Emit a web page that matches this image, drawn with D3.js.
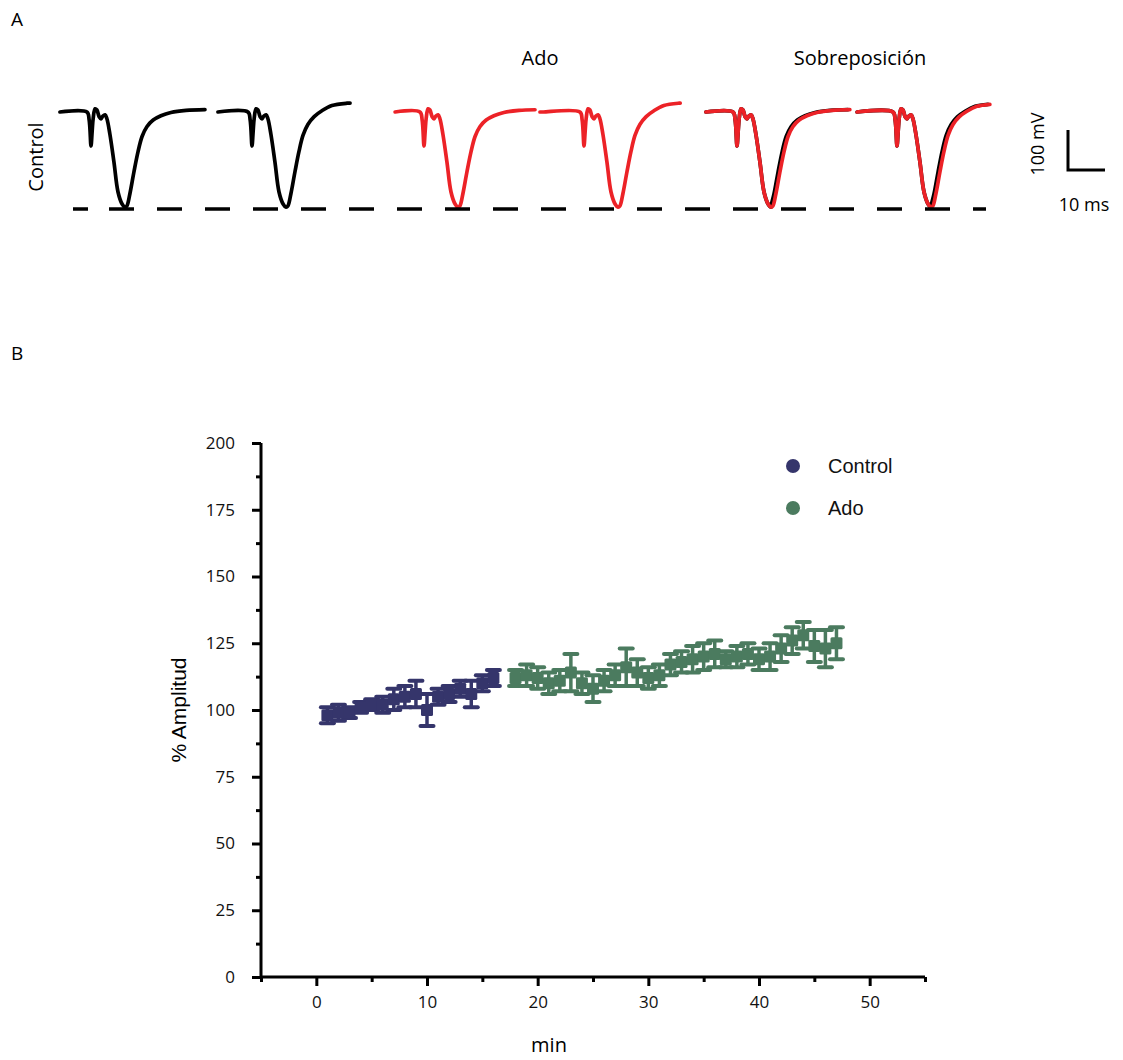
<!DOCTYPE html>
<html><head><meta charset="utf-8">
<script src="https://cdn.jsdelivr.net/npm/d3@7"></script>
<style>body{margin:0;background:#fff}svg{display:block}</style>
</head><body>
<script>
// ---------- DATA ----------
// Panel B
const controlMin = [1,2,3,4,5,6,7,8,9,10,11,12,13,14,15,16];
const controlAmp = [98,99,99,101,102,102,104,105,106,100,105,106,108,106,110,112];
const controlErr = [3,3,2,2,2,3,4,4,5,6,3,3,3,5,3,3];
const adoMin = [18,19,20,21,22,23,24,25,26,27,28,29,30,31,32,33,34,35,36,37,38,39,40,41,42,43,44,45,46,47];
const adoAmp = [112,113,112,110,111,114,110,108,111,113,116,114,112,113,117,118,119,120,121,119,120,121,119,120,123,126,128,124,123,125];
const adoErr = [3,4,4,4,4,7,4,5,4,4,7,5,4,4,4,4,5,5,5,3,4,4,4,5,5,5,5,6,7,6];
const yTicks = [0,25,50,75,100,125,150,175,200];
const xTicks = [0,10,20,30,40,50];
const seriesNames = ["Control","Ado"];

// Panel A : waveform template (ms relative to first deflection, mV relative to baseline)
const tmplT = [-11,-1.1,-0.5,0,0.3,0.6,1.1,1.6,2.2,2.7,3.2,3.8,4.3,5.1,6.2,7.3,8.4,9.2,9.7,10.5,11.6,12.7,13.8,15.1,16.8,18.9,21.6,25.7,31.1];
const tmplV = [0,0,-20,-85,-50,-15,8,5,-12,-17,-10,-7,-17,-55,-125,-200,-230,-238,-235,-205,-150,-100,-62,-38,-22,-12,-5,0,2];
// per-trace: start ms, end ms, late baseline drift (mV)
const traceStart = [-8.4,-9.2,-7.8,-11.9,-8.4,-10.8];
const traceEnd = [30.8,26.5,30,26,30.5,25.1];
const traceDrift = [4,22,4,22,4,20];
const groupLabels = ["Control","Ado","Sobreposición"];

// ---------- LAYOUT ----------
const W = 1123, H = 1060;
const svg = d3.select("body").append("svg").attr("width",W).attr("height",H);
const font = "'Open Sans', sans-serif";
const colControl = "#35356b", colAdo = "#4b7b5f", colRed = "#ec2227";

svg.append("text").attr("x",11).attr("y",26).text("A").attr("font-family",font).attr("font-size",19);
svg.append("text").attr("x",11).attr("y",360).text("B").attr("font-family",font).attr("font-size",19);

// ---- Panel A ----
const pxPerMs = 3.7, pxPerMv = 0.4, baseY = 112;
const traceX0 = [91,252,424,584,737,897]; // pixel of t=0
const traceColors = [["#000"],["#000"],[colRed],[colRed],["#000",colRed],["#000",colRed]];
function tracePoints(i){
  const pts = [];
  const s = traceStart[i], e = traceEnd[i];
  const T = [s].concat(tmplT.filter(t=>t>s && t<e)).concat([e]);
  T.forEach(t=>{
    let v;
    if(t<=tmplT[0]) v=tmplV[0];
    else if(t>=tmplT[tmplT.length-1]) v=tmplV[tmplV.length-1];
    else { const j = d3.bisectRight(tmplT,t)-1; const f=(t-tmplT[j])/(tmplT[j+1]-tmplT[j]); v=tmplV[j]+f*(tmplV[j+1]-tmplV[j]); }
    if(t>12) v += traceDrift[i]*Math.min(1,(t-12)/10);
    pts.push([t,v]);
  });
  return pts;
}
traceX0.forEach((x0,i)=>{
  const xs = d3.scaleLinear().domain([0,1]).range([x0,x0+pxPerMs]);
  const ys = d3.scaleLinear().domain([0,-1]).range([baseY,baseY+pxPerMv]);
  const pts = tracePoints(i);
  traceColors[i].forEach((c,k)=>{
    const shift = (traceColors[i].length===2 && k===0) ? -0.5 : 0;
    const line = d3.line().x(d=>xs(d[0]+ (d[0]>9.5?shift:0))).y(d=>ys(d[1])).curve(d3.curveCatmullRom.alpha(0.5));
    svg.append("path").attr("d",line(pts)).attr("fill","none").attr("stroke",c)
      .attr("stroke-width",3.7).attr("stroke-linejoin","round").attr("stroke-linecap","round");
  });
});
// dashed reference line at peak
svg.append("line").attr("x1",73).attr("x2",986).attr("y1",209).attr("y2",209)
  .attr("stroke","#000").attr("stroke-width",3.5).attr("stroke-dasharray","15 21 25 23 25 23 25 23 25 23 25 23 25 23 25 23 25 23 25 23 25 23 25 23 25 23 25 23 25 23 25 23 25 23 25 23 25 23 25 23");
svg.append("text").attr("transform","translate(43,157) rotate(-90)").attr("text-anchor","middle")
  .text(groupLabels[0]).attr("font-family",font).attr("font-size",20);
svg.append("text").attr("x",540).attr("y",65).attr("text-anchor","middle")
  .text(groupLabels[1]).attr("font-family",font).attr("font-size",20);
svg.append("text").attr("x",860).attr("y",65).attr("text-anchor","middle")
  .text(groupLabels[2]).attr("font-family",font).attr("font-size",20);
// scale bar
svg.append("path").attr("d","M1068,130 L1068,170 L1105,170").attr("fill","none").attr("stroke","#000").attr("stroke-width",3);
svg.append("text").attr("transform","translate(1044,144) rotate(-90)").attr("text-anchor","middle")
  .text("100 mV").attr("font-family",font).attr("font-size",18);
svg.append("text").attr("x",1084).attr("y",211).attr("text-anchor","middle")
  .text("10 ms").attr("font-family",font).attr("font-size",18);

// ---- Panel B ----
const x = d3.scaleLinear().domain([-5,55]).range([261,925]);
const y = d3.scaleLinear().domain([0,200]).range([977,443]);
const yAxis = d3.axisLeft(y).tickValues(yTicks).tickSize(9).tickPadding(17);
const yMinor = d3.axisLeft(y).tickValues(d3.range(12.5,200,25)).tickSize(5).tickFormat("");
const xAxis = d3.axisBottom(x).tickValues(xTicks).tickSize(9).tickPadding(10);
const xMinor = d3.axisBottom(x).tickValues([-5,5,15,25,35,45,55]).tickSize(5).tickFormat("");
function styleAxis(g){
  g.select(".domain").remove();
  g.selectAll(".tick line").attr("stroke-width",3).attr("stroke","#000");
  g.selectAll(".tick text").attr("font-family",font).attr("font-size",17).attr("fill","#111");
}
svg.append("g").attr("transform","translate(261,0)").call(yMinor).call(styleAxis);
svg.append("g").attr("transform","translate(261,0)").call(yAxis).call(styleAxis);
svg.append("g").attr("transform","translate(0,977)").call(xMinor).call(styleAxis);
svg.append("g").attr("transform","translate(0,977)").call(xAxis).call(styleAxis);
svg.append("line").attr("x1",x(-5)).attr("x2",x(-5)).attr("y1",y(0)+1.5).attr("y2",y(200)).attr("stroke","#000").attr("stroke-width",3);
svg.append("line").attr("x1",x(-5)).attr("x2",x(55)).attr("y1",y(0)).attr("y2",y(0)).attr("stroke","#000").attr("stroke-width",3);

svg.append("text").attr("transform","translate(186,710) rotate(-90)").attr("text-anchor","middle")
  .text("% Amplitud").attr("font-family","'Liberation Sans', Arial, sans-serif").attr("font-size",21);
svg.append("text").attr("x",549).attr("y",1052).attr("text-anchor","middle")
  .text("min").attr("font-family",font).attr("font-size",20);

function drawSeries(xs, ys, es, col){
  const g = svg.append("g");
  const d = xs.map((v,i)=>({x:v,y:ys[i],e:es[i]}));
  g.selectAll(".eb").data(d).enter().append("line")
    .attr("x1",d=>x(d.x)).attr("x2",d=>x(d.x)).attr("y1",d=>y(d.y-d.e)).attr("y2",d=>y(d.y+d.e))
    .attr("stroke",col).attr("stroke-width",3.5);
  ["lo","hi"].forEach(k=>{
    g.selectAll(".cap"+k).data(d).enter().append("line")
      .attr("x1",d=>x(d.x)-6.5).attr("x2",d=>x(d.x)+6.5)
      .attr("y1",d=>y(k==="lo"?d.y-d.e:d.y+d.e)).attr("y2",d=>y(k==="lo"?d.y-d.e:d.y+d.e))
      .attr("stroke",col).attr("stroke-width",4).attr("stroke-linecap","round");
  });
  g.selectAll(".pt").data(d).enter().append("rect")
    .attr("x",d=>x(d.x)-6).attr("y",d=>y(d.y)-6).attr("width",12).attr("height",12).attr("rx",1.5)
    .attr("fill",col);
}
drawSeries(controlMin, controlAmp, controlErr, colControl);
drawSeries(adoMin, adoAmp, adoErr, colAdo);

// legend
const leg = [[seriesNames[0],colControl,466],[seriesNames[1],colAdo,508]];
leg.forEach(l=>{
  svg.append("circle").attr("cx",793).attr("cy",l[2]).attr("r",7).attr("fill",l[1]);
  svg.append("text").attr("x",828).attr("y",l[2]+7).text(l[0])
    .attr("font-family","'Liberation Sans', Arial, sans-serif").attr("font-size",20).attr("fill","#111");
});
</script>
</body></html>
